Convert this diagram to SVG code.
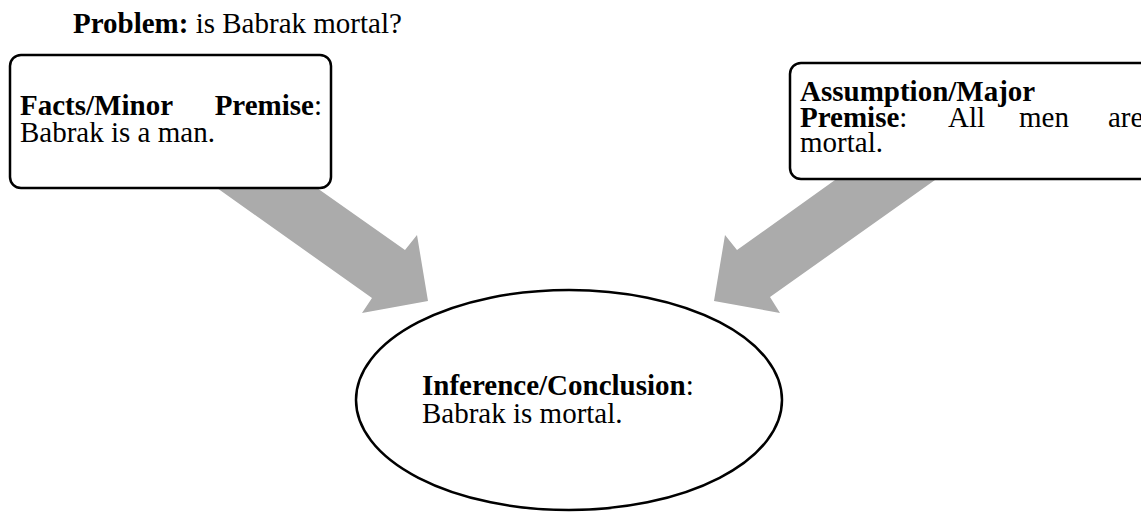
<svg xmlns="http://www.w3.org/2000/svg" width="1141" height="512" viewBox="0 0 1141 512">
<style>
text{font-family:"Liberation Serif","Times New Roman",serif;font-size:29px;fill:#000}
.b{font-weight:bold}
.box{fill:#fff;stroke:#000;stroke-width:2.5}
.arrow{fill:#ababab;stroke:none}
</style>
<rect width="1141" height="512" fill="#fff"/>
<g id="title"><text x="73" y="33"><tspan class="b">Problem:</tspan> is Babrak mortal?</text></g>
<g id="connectors">
<polygon class="arrow" points="189,168 217,188 372,298 362,313 428,301 417,235 405,250 317,188 289,168"/>
<polygon class="arrow" points="863,160 835,180 737,250 725,235 714,301 780,313 770,297 935,180 963,160"/>
</g>
<g id="facts">
<rect class="box" x="10" y="55" width="321" height="133" rx="11"/>
<text x="20" y="115" class="b">Facts/Minor</text>
<text x="322" y="115" text-anchor="end"><tspan class="b">Premise</tspan>:</text>
<text x="20" y="142">Babrak is a man.</text>
</g>
<g id="assumption">
<rect class="box" x="790" y="63" width="370" height="116" rx="11"/>
<text x="800" y="101" class="b">Assumption/Major</text>
<text x="800" y="127"><tspan class="b">Premise</tspan>:</text>
<text x="948" y="127">All</text>
<text x="1019" y="127">men</text>
<text x="1108" y="127">are</text>
<text x="800" y="152">mortal.</text>
</g>
<g id="conclusion">
<ellipse class="box" cx="569" cy="400" rx="213" ry="110"/>
<text x="422" y="395"><tspan class="b">Inference/Conclusion</tspan>:</text>
<text x="422" y="423">Babrak is mortal.</text>
</g>
</svg>
